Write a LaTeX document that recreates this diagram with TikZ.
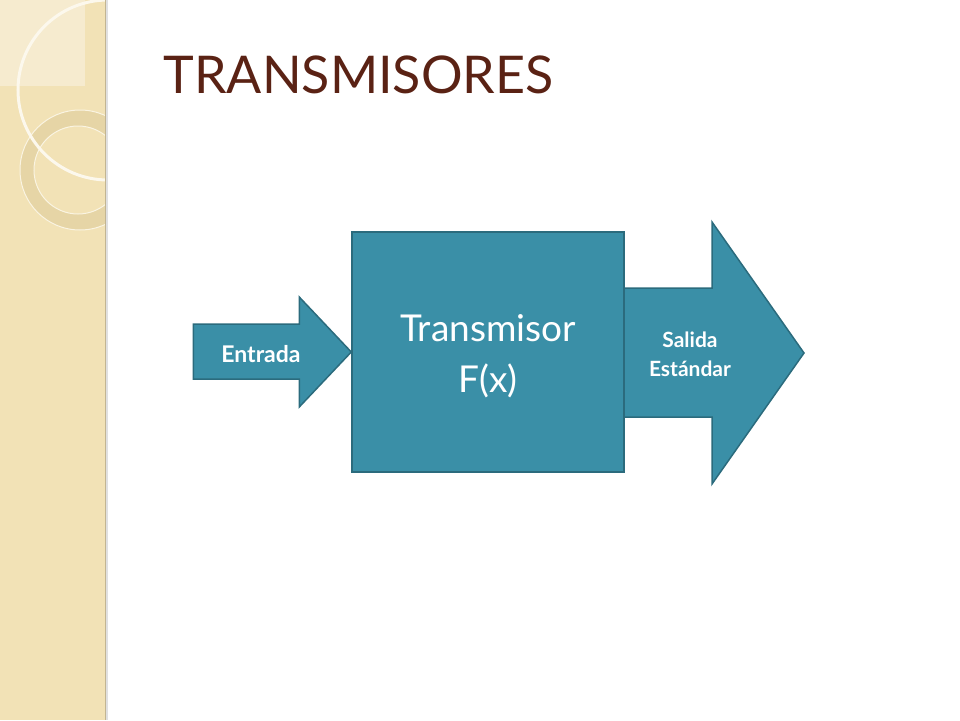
\documentclass[tikz,border=0pt]{standalone}
\usepackage{fontspec}
\setmainfont{Lato}
\usetikzlibrary{positioning}
\definecolor{tealfill}{HTML}{3A8FA7}
\definecolor{tealline}{HTML}{2B6B7D}
\definecolor{sidebar}{HTML}{F2E2B6}
\definecolor{sidelight}{HTML}{F6EBCF}
\definecolor{ringcol}{HTML}{E4D2A2}
\definecolor{titlecol}{HTML}{5A2214}
\tikzset{
  block/.style={draw=tealline,fill=tealfill,line width=1.5pt,line join=miter},
  arrowtext/.style={text=white,font=\bfseries\fontsize{23}{29}\selectfont,align=center},
  boxtext/.style={text=white,font=\fontsize{37}{51}\selectfont,align=center}
}
\begin{document}
\begin{tikzpicture}[x=1pt,y=-1pt]
  \useasboundingbox (0,0) rectangle (960,720);
  % sidebar with rings
  \fill[sidebar] (0,0) rectangle (105,720);
  \begin{scope}
    \clip (0,0) rectangle (105,720);
    \fill[sidelight] (0,0) rectangle (85,86);
    \fill[ringcol,opacity=0.8,even odd rule] (80,170) circle (60) (78,170) circle (44);
    \draw[white!60!sidebar,line width=1pt] (80,170) circle (60) (78,170) circle (44);
    \draw[white!75!sidebar,line width=3pt] (108,90) circle (90);
  \end{scope}
  \fill[black!12] (105,0) rectangle (108,720);
  \draw[sidebar!80!black,line width=0.8pt] (105,0) -- (105,720);

  % title
  \node (title) [anchor=base west,text=titlecol,font=\fontsize{52}{60}\selectfont] at (160,93) {TRANSMISORES};

  % output arrow, behind the block
  \draw[block] (624,288) -- (712,288) -- (712,222) -- (804,353)
    -- (712,484) -- (712,417) -- (624,417);

  % main block
  \node (tx) [block,minimum width=272pt,minimum height=240pt,inner sep=0pt] at (488,352) {};
  \node (txt) [boxtext] at ([yshift=-4pt]tx.center) {Transmisor\\F(x)};

  % input arrow
  \coordinate (intip) at (tx.west);
  \draw[block] (intip) -- ++(-52,-55) -- ++(0,27) -- ++(-106,0) -- ++(0,55)
    -- ++(106,0) -- ++(0,28) -- cycle;
  \node (in) [arrowtext] at (261,354) {Entrada};

  % output text
  \node (out) [arrowtext,font=\bfseries\fontsize{21}{29}\selectfont] at (690,354) {Salida\\Estándar};
\end{tikzpicture}
\end{document}
